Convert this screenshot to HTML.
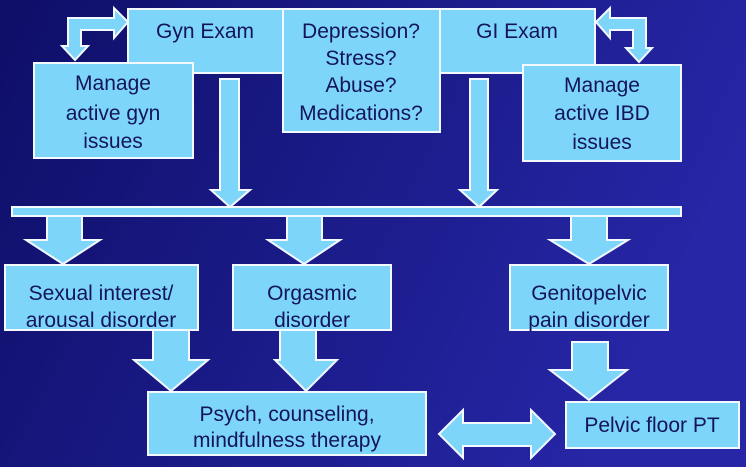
<!DOCTYPE html>
<html><head><meta charset="utf-8"><style>
html,body{margin:0;padding:0;width:750px;height:471px;overflow:hidden;background:#fff}
svg{display:block}
text{font-family:"Liberation Sans","DejaVu Sans",sans-serif;font-size:21px;fill:#14145a;text-anchor:middle}
</style></head><body>
<svg width="750" height="471" viewBox="0 0 750 471">
<defs><linearGradient id="bg" x1="0" y1="0" x2="1" y2="0.3">
<stop offset="0" stop-color="#0e0e68"/><stop offset="1" stop-color="#2626a6"/></linearGradient></defs>
<rect x="0" y="0" width="746" height="467" fill="url(#bg)"/>
<g fill="#7dd6fa" stroke="#f4f8ff" stroke-width="2">
<rect x="128" y="9" width="155" height="64"/>
<rect x="440" y="9" width="155" height="64"/>
<rect x="283" y="9" width="157" height="123"/>
<rect x="34" y="63" width="159" height="95"/>
<rect x="523" y="65" width="158" height="96"/>
<polygon points="128,22 114,8 114,18 68,18 68,46 62,46 75,60 88,46 81,46 81,30 114,30 114,38"/>
<polygon points="596,22 610,8 610,18 646,18 646,48 652,48 639,62 626,48 633,48 633,30 610,30 610,38"/>
<polygon points="220,79 239,79 239,190 250,190 230,207 211,190 220,190"/>
<polygon points="470,79 488,79 488,190 497,190 479,207 460,190 470,190"/>
<rect x="12" y="207" width="669" height="9"/>
<polygon points="47,216 82,216 82,240 100,240 63,264 26,240 47,240"/>
<polygon points="287,216 322,216 322,240 340,240 304,264 268,240 287,240"/>
<polygon points="571,216 607,216 607,240 628,240 589,264 550,240 571,240"/>
<rect x="5" y="265" width="193" height="65"/>
<rect x="233" y="265" width="158" height="65"/>
<rect x="510" y="265" width="158" height="65"/>
<polygon points="153,330 189,330 189,360 208,360 171,391 134,360 153,360"/>
<polygon points="280,330 316,330 316,360 337,360 306,391 275,360 280,360"/>
<polygon points="572,342 608,342 608,370 627,370 589,400 550,370 572,370"/>
<rect x="148" y="392" width="278" height="63"/>
<rect x="566" y="402" width="173" height="46"/>
<polygon points="439,434 463,410 463,423 531,423 531,410 555,434 531,458 531,446 463,446 463,458"/>
</g>
<text x="205" y="38">Gyn Exam</text>
<text x="517" y="38">GI Exam</text>
<text x="361" y="38">Depression?</text>
<text x="361" y="65">Stress?</text>
<text x="361" y="92">Abuse?</text>
<text x="361" y="120">Medications?</text>
<text x="113" y="90">Manage</text>
<text x="113" y="120">active gyn</text>
<text x="113" y="148">issues</text>
<text x="602" y="92">Manage</text>
<text x="602" y="120">active IBD</text>
<text x="602" y="149">issues</text>
<text x="101" y="300">Sexual interest/</text>
<text x="101" y="327">arousal disorder</text>
<text x="312" y="300">Orgasmic</text>
<text x="312" y="327">disorder</text>
<text x="589" y="300">Genitopelvic</text>
<text x="589" y="327">pain disorder</text>
<text x="287" y="421">Psych, counseling,</text>
<text x="287" y="447">mindfulness therapy</text>
<text x="652" y="432">Pelvic floor PT</text>
</svg>
</body></html>
